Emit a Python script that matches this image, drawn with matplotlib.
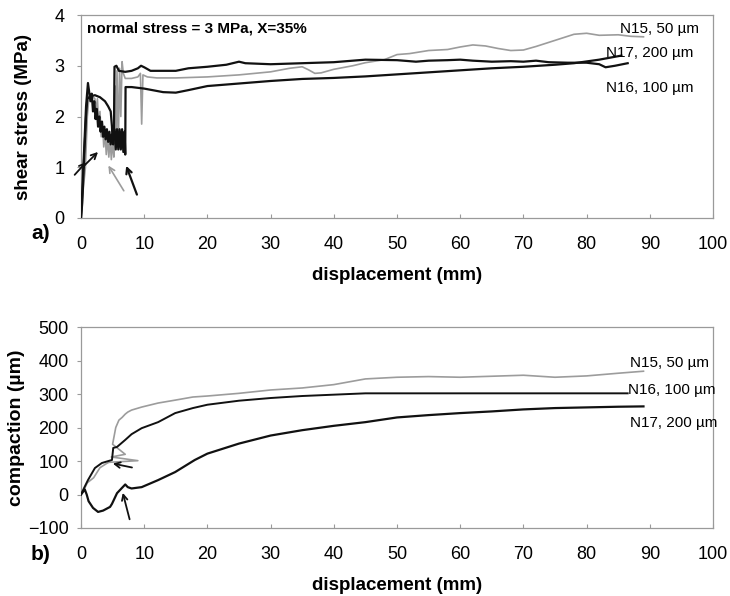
import matplotlib
matplotlib.use("Agg")
import matplotlib.pyplot as plt

plt.rcParams['font.family'] = ['Liberation Sans', 'DejaVu Sans']

# ---------------- panel a) shear stress (MPa) ----------------
n15_shear_x = [0, 0.3, 0.7, 1.0, 1.3, 1.8, 2.2, 2.4, 2.6, 2.8, 3.0, 3.2, 3.4, 3.6, 3.8, 4.0, 4.2, 4.4, 4.6, 4.8,
               5.0, 5.2, 5.4, 5.5, 5.7, 5.9, 6.1, 6.3, 6.5, 6.7, 7, 8, 9, 9.4, 9.6, 9.8, 10.5, 12, 15, 20, 25, 30,
               33, 35, 36, 37, 38, 40, 43, 45, 48, 50, 52, 55, 58, 60, 62, 64, 66, 68, 70, 72, 75, 78, 80, 82, 85, 87, 89]
n15_shear_y = [0, 0.5, 1.0, 2.0, 2.45, 2.4, 2.35, 2.1, 2.35, 1.8, 2.1, 1.6, 1.9, 1.4, 1.7, 1.25, 1.6, 1.2, 1.55, 1.15,
               1.5, 1.2, 2.6, 1.6, 2.9, 1.4, 2.95, 2.0, 3.08, 2.85, 2.75, 2.75, 2.78, 2.85, 1.85, 2.82, 2.78, 2.76, 2.76, 2.78, 2.82, 2.88,
               2.95, 2.98, 2.92, 2.85, 2.86, 2.93, 3.0, 3.06, 3.12, 3.22, 3.24, 3.3, 3.32, 3.37, 3.41, 3.39, 3.34, 3.3, 3.31, 3.38, 3.5, 3.62, 3.64, 3.6, 3.61, 3.58, 3.57]

n16_shear_x = [0, 0.3, 0.8, 1.1, 1.5, 1.7, 1.9, 2.1, 2.3, 2.5, 2.7, 2.9, 3.1, 3.3, 3.5, 3.7, 3.9, 4.1, 4.3, 4.5, 4.7,
               4.9, 5.1, 5.2, 5.3, 5.6, 6.0, 7, 8, 9, 9.5, 10, 11, 13, 15, 17, 20, 23, 25, 26, 30, 35, 40, 45, 50, 53,
               55, 58, 60, 62, 65, 68, 70, 72, 74, 77, 80, 82, 83, 84.5, 86.5]
n16_shear_y = [0, 0.8, 2.2, 2.66, 2.3, 2.45, 2.1, 2.3, 1.95, 2.15, 1.8, 2.0, 1.7, 1.9, 1.6, 1.8, 1.55, 1.75, 1.5, 1.7, 1.45,
               1.65, 1.45, 1.6, 2.98, 3.0, 2.9, 2.88, 2.9, 2.95, 3.0, 2.97, 2.9, 2.9, 2.9, 2.95, 2.98, 3.02, 3.08, 3.05, 3.03, 3.05, 3.07, 3.12, 3.11, 3.08,
               3.1, 3.11, 3.12, 3.1, 3.08, 3.09, 3.08, 3.1, 3.07, 3.06, 3.06, 3.03, 2.97, 3.0, 3.05]

n17_shear_x = [0, 0.2, 0.5, 0.8, 1.0, 1.5, 2.2, 3.0, 3.8, 4.3, 4.7, 4.9, 5.0, 5.3, 5.5, 5.7, 5.9, 6.1, 6.3, 6.5, 6.7,
               6.9, 7.0, 7.05, 8, 10, 13, 15, 17, 20, 25, 30, 35, 40, 45, 50, 55, 60, 65, 70, 75, 78, 82, 85.5]
n17_shear_y = [0, 0.3, 1.2, 2.0, 2.35, 2.4, 2.42, 2.38, 2.3, 2.2, 2.1, 1.8, 1.5, 1.75, 1.35, 1.75, 1.35, 1.75, 1.35, 1.75, 1.3,
               1.7, 1.25, 2.58, 2.58, 2.55, 2.48, 2.47, 2.52, 2.6, 2.65, 2.7, 2.74, 2.76, 2.79, 2.83, 2.87, 2.91, 2.95, 2.98, 3.02, 3.05, 3.12, 3.2]

# ---------------- panel b) compaction (um) ----------------
n15_comp_x = [0, 0.5, 1, 2, 3, 4, 4.4, 9.0, 4.8, 7.0, 5.0, 5.5, 6, 6.5, 7, 7.4, 8, 9.6, 12.2, 15, 17.7, 20, 25, 30,
              35, 40, 45, 50, 55, 60, 65, 70, 75, 80, 85, 89]
n15_comp_y = [0, 15, 35, 50, 80, 92, 96, 101, 112, 120, 150, 200, 222, 230, 240, 246, 252, 261, 273, 282, 291, 294, 302, 312,
              318, 328, 345, 350, 352, 350, 353, 356, 350, 354, 362, 368]

n16_comp_x = [0, 0.5, 1.1, 2.2, 3.3, 4.0, 4.9, 5.1, 5.7, 7, 8, 9.6, 12.2, 14.9, 17.7, 20, 25, 30, 35, 40, 45, 50, 60,
              70, 80, 86.5]
n16_comp_y = [0, 20, 43, 79, 94, 98, 103, 139, 142, 163, 180, 198, 216, 243, 258, 268, 280, 288, 294, 298, 302, 302, 302,
              302, 302, 302]

n17_comp_x = [0, 0.6, 0.9, 1.2, 1.9, 2.7, 3.5, 4.6, 4.9, 5.7, 6.5, 7.0, 7.4, 8.0, 9.6, 12.2, 14.9, 18, 20, 25, 30, 35,
              40, 45, 50, 55, 60, 65, 70, 75, 80, 85, 89]
n17_comp_y = [0, 15, 0, -20, -40, -52, -48, -37, -28, 4, 20, 30, 22, 18, 22, 43, 67, 103, 122, 152, 176, 192,
              205, 216, 230, 237, 243, 248, 254, 258, 260, 262, 263]

x_ticks = [0, 10, 20, 30, 40, 50, 60, 70, 80, 90, 100]
shear_ticks = [0, 1, 2, 3, 4]
comp_ticks = [-100, 0, 100, 200, 300, 400, 500]

BLACK = '#111111'
GRAY = '#9c9c9c'
FRAME = '#9a9a9a'

fig = plt.figure(figsize=(7.3, 5.96), dpi=100)
ax1 = fig.add_axes([81 / 730, 1 - 218 / 596, 632 / 730, 203 / 596])
ax2 = fig.add_axes([81 / 730, 1 - 528 / 596, 632 / 730, 201 / 596])


def style(ax, yticks, ylim):
    ax.set_xlim(0, 100)
    ax.set_ylim(*ylim)
    ax.set_xticks(x_ticks)
    ax.set_yticks(yticks)
    for s in ax.spines.values():
        s.set_color(FRAME)
        s.set_linewidth(0.9)
    ax.tick_params(axis='x', direction='in', length=3, color=FRAME, labelsize=13, labelcolor='black', pad=13)
    ax.tick_params(axis='y', direction='out', length=3, color=FRAME, labelsize=13, labelcolor='black')
    ax.set_xlabel('displacement (mm)', fontsize=13.5, fontweight='bold', labelpad=10)


# panel a
ax1.plot(n15_shear_x, n15_shear_y, color=GRAY, lw=1.2, zorder=2)
ax1.plot(n17_shear_x, n17_shear_y, color=BLACK, lw=1.6, zorder=3)
ax1.plot(n16_shear_x, n16_shear_y, color=BLACK, lw=1.6, zorder=3)
style(ax1, shear_ticks, (0, 4))
ax1.tick_params(axis='y', pad=9)
ax1.set_ylabel('shear stress (MPa)', fontsize=13.5, fontweight='bold', labelpad=16)
ax1.text(0.9, 3.73, 'normal stress = 3 MPa, X=35%', fontsize=11, fontweight='bold', va='center')
ax1.text(85.3, 3.72, 'N15, 50 µm', fontsize=11, va='center', clip_on=False)
ax1.text(83.1, 3.25, 'N17, 200 µm', fontsize=11, va='center', clip_on=False)
ax1.text(83.1, 2.56, 'N16, 100 µm', fontsize=11, va='center', clip_on=False)

arr_k = dict(arrowstyle='->', color=BLACK, lw=1.3)
arr_g = dict(arrowstyle='->', color=GRAY, lw=1.2)
ax1.annotate('', xy=(1.1, 1.14), xytext=(-1.3, 0.81), arrowprops=arr_k, annotation_clip=False)
ax1.annotate('', xy=(3.0, 1.34), xytext=(0.1, 0.98), arrowprops=arr_k, annotation_clip=False)
ax1.annotate('', xy=(4.1, 1.08), xytext=(7.0, 0.49), arrowprops=arr_g, annotation_clip=False)
ax1.annotate('', xy=(7.0, 1.08), xytext=(9.0, 0.41), arrowprops=dict(arrowstyle='->', color=BLACK, lw=1.6),
             annotation_clip=False)

# panel b
ax2.plot(n15_comp_x, n15_comp_y, color=GRAY, lw=1.2, zorder=2)
ax2.plot(n16_comp_x, n16_comp_y, color=BLACK, lw=1.4, zorder=3)
ax2.plot(n17_comp_x, n17_comp_y, color=BLACK, lw=1.6, zorder=3)
style(ax2, comp_ticks, (-100, 500))
ax2.tick_params(axis='y', pad=6)
ax2.set_ylabel('compaction (µm)', fontsize=14, fontweight='bold', labelpad=2)
ax2.text(86.9, 392, 'N15, 50 µm', fontsize=11, va='center', clip_on=False)
ax2.text(86.6, 312, 'N16, 100 µm', fontsize=11, va='center', clip_on=False)
ax2.text(86.9, 213, 'N17, 200 µm', fontsize=11, va='center', clip_on=False)
ax2.annotate('', xy=(4.6, 94), xytext=(8.5, 79), arrowprops=arr_k, annotation_clip=False)
ax2.annotate('', xy=(6.5, 13), xytext=(7.8, -82), arrowprops=arr_k, annotation_clip=False)

fig.text(41 / 730, 1 - 234 / 596, 'a)', fontsize=15, fontweight='bold', ha='center', va='center')
fig.text(41 / 730, 1 - 555 / 596, 'b)', fontsize=15, fontweight='bold', ha='center', va='center')

fig.savefig('out.png', dpi=100)
